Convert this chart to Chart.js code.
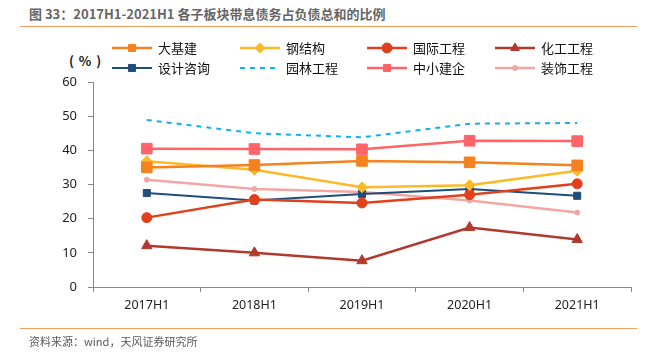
<!DOCTYPE html>
<html>
<head>
<meta charset="utf-8">
<script src="https://cdn.jsdelivr.net/npm/chart.js@4/dist/chart.umd.min.js"></script>
<style>
  body { margin: 0; background: #fff; width: 655px; height: 353px; overflow: hidden; position: relative;
         font-family: "Noto Sans CJK SC", "Noto Sans", sans-serif; }
  #title { position: absolute; left: 29px; top: 4px; font-size: 13px; font-weight: bold; color: #666; white-space: nowrap; }
  .rule { position: absolute; left: 20px; width: 617px; height: 1px; background: #F0A060; }
  #source { position: absolute; left: 29px; top: 333px; font-size: 11px; color: #595959; white-space: nowrap; }
  #unit { position: absolute; left: 69px; top: 51px; font-size: 13px; font-weight: bold; color: #222;
          white-space: nowrap; letter-spacing: 1px; }
  canvas { position: absolute; left: 0; top: 0; }
</style>
</head>
<body>
<div id="title">图 33：2017H1-2021H1 各子板块带息债务占负债总和的比例</div>
<div class="rule" style="top:26px"></div>
<div id="unit">( % )</div>
<canvas id="c" width="655" height="353"></canvas>
<div class="rule" style="top:328px"></div>
<div id="source">资料来源：wind，天风证券研究所</div>
<script>
const periods = ['2017H1', '2018H1', '2019H1', '2020H1', '2021H1'];
const yTicks = [0, 10, 20, 30, 40, 50, 60];

const daJiJian = [35.0, 35.7, 36.9, 36.5, 35.6];     // 大基建
const gangJieGou = [36.8, 34.3, 29.2, 29.8, 34.0];   // 钢结构
const guoJi = [20.3, 25.6, 24.6, 27.0, 30.2];        // 国际工程
const huaGong = [12.1, 10.0, 7.7, 17.4, 13.9];       // 化工工程
const sheJi = [27.5, 25.3, 27.2, 28.7, 26.7];        // 设计咨询
const yuanLin = [48.9, 45.0, 43.8, 47.8, 48.0];      // 园林工程
const zhongXiao = [40.5, 40.4, 40.3, 42.8, 42.7];    // 中小建企
const zhuangShi = [31.4, 28.7, 27.8, 25.3, 21.8];    // 装饰工程

function series(label, data, color, style, radius, width, dash) {
    return {
        label: label,
        data: data,
        borderColor: color,
        backgroundColor: color,
        pointBackgroundColor: color,
        pointBorderColor: color,
        pointStyle: style,
        pointRadius: radius,
        pointHoverRadius: radius,
        pointBorderWidth: 1,
        borderWidth: width,
        borderDash: dash || [],
        tension: 0,
        fill: false,
    };
}

const datasets = [
    series('大基建', daJiJian, '#F5821F', 'rect', 7.5, 2.5),
    series('钢结构', gangJieGou, '#FDB927', 'rectRot', 5.5, 2.5),
    series('国际工程', guoJi, '#E0401C', 'circle', 5, 2.5),
    series('化工工程', huaGong, '#B03A2E', 'triangle', 6, 2.5),
    series('设计咨询', sheJi, '#1F4E7A', 'rect', 5, 2),
    series('园林工程', yuanLin, '#12B0F0', false, 0, 2, [5, 5]),
    series('中小建企', zhongXiao, '#FF6468', 'rect', 7.5, 2.5),
    series('装饰工程', zhuangShi, '#F2A7A5', 'circle', 2.5, 2.5),
];

// ── Legend in a 4x2 grid ───────────────────────────────────────────────
const gridLegend = {
    id: 'gridLegend',
    afterDraw(chart) {
        const ctx = chart.ctx;
        const colX = [112, 240, 367, 495];
        const rowY = [48, 68];
        ctx.save();
        chart.data.datasets.forEach(function (ds, i) {
            const x = colX[i % 4];
            const y = rowY[Math.floor(i / 4)];
            ctx.strokeStyle = ds.borderColor;
            ctx.lineWidth = ds.borderWidth;
            ctx.setLineDash(ds.borderDash);
            ctx.beginPath();
            ctx.moveTo(x, y);
            ctx.lineTo(x + 40, y);
            ctx.stroke();
            ctx.setLineDash([]);
            if (ds.pointStyle) {
                ctx.fillStyle = ds.pointBackgroundColor;
                ctx.strokeStyle = ds.pointBorderColor;
                ctx.lineWidth = 1;
                Chart.helpers.drawPoint(ctx, {
                    pointStyle: ds.pointStyle,
                    radius: Math.min(ds.pointRadius, 5),
                    borderWidth: 1,
                    rotation: 0,
                }, x + 20, y);
            }
            ctx.fillStyle = '#111';
            ctx.font = '13px "Noto Sans CJK SC"';
            ctx.textBaseline = 'middle';
            ctx.textAlign = 'left';
            ctx.fillText(ds.label, x + 46, y);
        });
        ctx.restore();
    },
};

new Chart(document.getElementById('c'), {
    type: 'line',
    data: { labels: periods, datasets: datasets },
    plugins: [gridLegend],
    options: {
        responsive: false,
        animation: false,
        layout: { padding: { left: 0, top: 82, right: 24, bottom: 0 } },
        plugins: { legend: { display: false }, tooltip: { enabled: false } },
        scales: {
            x: {
                offset: true,
                grid: {
                    offset: true,
                    drawOnChartArea: false,
                    drawTicks: true,
                    tickLength: 5,
                    color: '#888',
                },
                border: { color: '#888', width: 1 },
                ticks: {
                    color: '#222',
                    font: { family: 'Noto Sans', size: 12.5 },
                    padding: 6,
                    maxRotation: 0,
                },
                afterFit: function (s) { s.height = 66; },
            },
            y: {
                min: 0,
                max: 60,
                afterBuildTicks: function (s) {
                    s.ticks = yTicks.map(function (v) { return { value: v }; });
                },
                grid: {
                    drawOnChartArea: false,
                    drawTicks: true,
                    tickLength: 5,
                    color: '#888',
                },
                border: { color: '#888', width: 1 },
                ticks: {
                    color: '#222',
                    font: { family: 'Noto Sans', size: 13 },
                    padding: 11,
                },
                afterFit: function (s) { s.width = 93; },
            },
        },
    },
});
</script>
</body>
</html>
